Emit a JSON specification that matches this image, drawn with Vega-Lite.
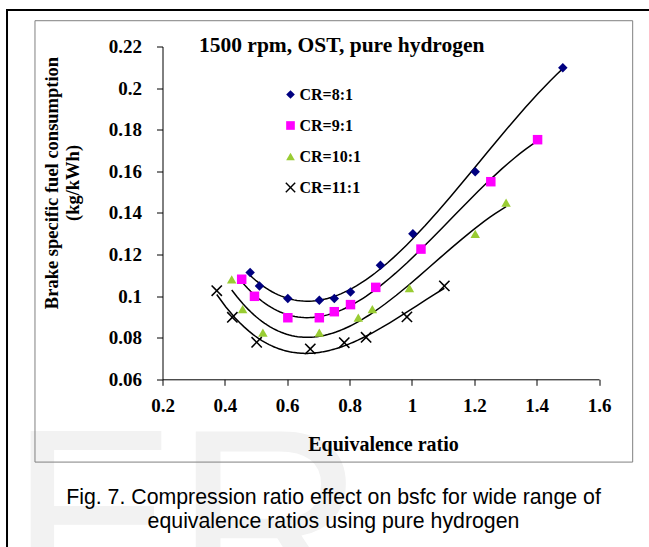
{
  "$schema": "https://vega.github.io/schema/vega-lite/v6.json",
  "autosize": {"type": "none"},
  "padding": {"left": 162.5, "top": 46.5, "right": 50, "bottom": 167.7},
  "width": 436.5,
  "height": 332.8,
  "background": "white",
  "config": {"view": {"stroke": null}, "font": "Liberation Serif"},
  "datasets": {
    "obs": [
      {"cr": "CR=8:1", "phi": 0.481, "bsfc": 0.1114},
      {"cr": "CR=8:1", "phi": 0.511, "bsfc": 0.1049},
      {"cr": "CR=8:1", "phi": 0.602, "bsfc": 0.0988},
      {"cr": "CR=8:1", "phi": 0.703, "bsfc": 0.098},
      {"cr": "CR=8:1", "phi": 0.751, "bsfc": 0.0988},
      {"cr": "CR=8:1", "phi": 0.803, "bsfc": 0.102},
      {"cr": "CR=8:1", "phi": 0.899, "bsfc": 0.1148},
      {"cr": "CR=8:1", "phi": 1.003, "bsfc": 0.13},
      {"cr": "CR=8:1", "phi": 1.203, "bsfc": 0.1598},
      {"cr": "CR=8:1", "phi": 1.484, "bsfc": 0.2098},
      {"cr": "CR=9:1", "phi": 0.454, "bsfc": 0.1081},
      {"cr": "CR=9:1", "phi": 0.495, "bsfc": 0.0999},
      {"cr": "CR=9:1", "phi": 0.602, "bsfc": 0.0896},
      {"cr": "CR=9:1", "phi": 0.703, "bsfc": 0.0896},
      {"cr": "CR=9:1", "phi": 0.751, "bsfc": 0.0925},
      {"cr": "CR=9:1", "phi": 0.803, "bsfc": 0.0959},
      {"cr": "CR=9:1", "phi": 0.884, "bsfc": 0.1042},
      {"cr": "CR=9:1", "phi": 1.029, "bsfc": 0.1226},
      {"cr": "CR=9:1", "phi": 1.253, "bsfc": 0.155},
      {"cr": "CR=9:1", "phi": 1.403, "bsfc": 0.1752},
      {"cr": "CR=10:1", "phi": 0.422, "bsfc": 0.108},
      {"cr": "CR=10:1", "phi": 0.457, "bsfc": 0.0937},
      {"cr": "CR=10:1", "phi": 0.522, "bsfc": 0.0824},
      {"cr": "CR=10:1", "phi": 0.703, "bsfc": 0.0824},
      {"cr": "CR=10:1", "phi": 0.828, "bsfc": 0.0896},
      {"cr": "CR=10:1", "phi": 0.873, "bsfc": 0.0937},
      {"cr": "CR=10:1", "phi": 0.992, "bsfc": 0.1038},
      {"cr": "CR=10:1", "phi": 1.203, "bsfc": 0.1299},
      {"cr": "CR=10:1", "phi": 1.302, "bsfc": 0.1449},
      {"cr": "CR=11:1", "phi": 0.374, "bsfc": 0.1026},
      {"cr": "CR=11:1", "phi": 0.424, "bsfc": 0.0898},
      {"cr": "CR=11:1", "phi": 0.502, "bsfc": 0.0778},
      {"cr": "CR=11:1", "phi": 0.674, "bsfc": 0.0746},
      {"cr": "CR=11:1", "phi": 0.783, "bsfc": 0.0776},
      {"cr": "CR=11:1", "phi": 0.853, "bsfc": 0.0802},
      {"cr": "CR=11:1", "phi": 0.984, "bsfc": 0.09},
      {"cr": "CR=11:1", "phi": 1.104, "bsfc": 0.1049}
    ]
  },
  "data": {"name": "obs"},
  "layer": [
    {
      "data": {"values": [{}]},
      "mark": {"type": "text", "text": "E", "font": "Liberation Sans", "fontSize": 250, "color": "#f2f2f2", "align": "left", "baseline": "alphabetic"},
      "encoding": {
        "x": {"datum": -0.288, "type": "quantitative", "scale": {"domain": [0.2, 1.6], "nice": false, "zero": false}},
        "y": {"datum": -0.048, "type": "quantitative", "scale": {"domain": [0.06, 0.22], "nice": false, "zero": false}}
      }
    },
    {
      "data": {"values": [{}]},
      "mark": {"type": "text", "text": "R", "font": "Liberation Sans", "fontSize": 265, "color": "#f2f2f2", "align": "left", "baseline": "alphabetic"},
      "encoding": {
        "x": {"datum": 0.237, "type": "quantitative", "scale": {"domain": [0.2, 1.6], "nice": false, "zero": false}},
        "y": {"datum": -0.0528, "type": "quantitative", "scale": {"domain": [0.06, 0.22], "nice": false, "zero": false}}
      }
    },
    {
      "data": {"values": [{}]},
      "mark": {"type": "rect", "fill": "transparent", "stroke": "black", "strokeWidth": 2},
      "encoding": {
        "x": {"datum": -0.2987, "type": "quantitative", "scale": {"domain": [0.2, 1.6], "nice": false, "zero": false}},
        "x2": {"datum": 2.0},
        "y": {"datum": 0.2376, "type": "quantitative", "scale": {"domain": [0.06, 0.22], "nice": false, "zero": false}},
        "y2": {"datum": -0.1}
      }
    },
    {
      "data": {"values": [{}]},
      "mark": {"type": "rect", "fill": "transparent", "stroke": "#808080", "strokeWidth": 1},
      "encoding": {
        "x": {"datum": -0.209, "type": "quantitative", "scale": {"domain": [0.2, 1.6], "nice": false, "zero": false}},
        "x2": {"datum": 1.708},
        "y": {"datum": 0.2324, "type": "quantitative", "scale": {"domain": [0.06, 0.22], "nice": false, "zero": false}},
        "y2": {"datum": 0.0202}
      }
    },
    {
      "data": {"values": [{}]},
      "mark": {"type": "text", "text": ["Fig. 7. Compression ratio effect on bsfc for wide range of", "equivalence ratios using pure hydrogen"], "font": "Liberation Sans", "fontSize": 21.3, "lineHeight": 24, "color": "black", "align": "center", "baseline": "alphabetic"},
      "encoding": {
        "x": {"datum": 0.7484, "type": "quantitative", "scale": {"domain": [0.2, 1.6], "nice": false, "zero": false}},
        "y": {"datum": 0.0, "type": "quantitative", "scale": {"domain": [0.06, 0.22], "nice": false, "zero": false}}
      }
    },
    {
      "data": {"values": [{}]},
      "mark": {"type": "text", "text": "1500 rpm, OST, pure hydrogen", "font": "Liberation Serif", "fontWeight": "bold", "fontSize": 21.5, "color": "black", "align": "left", "baseline": "alphabetic"},
      "encoding": {
        "x": {"datum": 0.317, "type": "quantitative", "scale": {"domain": [0.2, 1.6], "nice": false, "zero": false}},
        "y": {"datum": 0.2172, "type": "quantitative", "scale": {"domain": [0.06, 0.22], "nice": false, "zero": false}}
      }
    },
    {
      "transform": [
        {"regression": "bsfc", "on": "phi", "groupby": ["cr"], "method": "poly", "order": 3}
      ],
      "mark": {"type": "line", "color": "black", "strokeWidth": 1.5},
      "encoding": {
        "x": {"field": "phi", "type": "quantitative", "scale": {"domain": [0.2, 1.6], "nice": false, "zero": false}},
        "y": {"field": "bsfc", "type": "quantitative", "scale": {"domain": [0.06, 0.22], "nice": false, "zero": false}},
        "detail": {"field": "cr", "type": "nominal"}
      }
    },
    {
      "mark": {"type": "point", "filled": true, "size": 90, "strokeWidth": 0, "opacity": 1},
      "encoding": {
        "x": {
          "field": "phi", "type": "quantitative",
          "scale": {"domain": [0.2, 1.6], "nice": false, "zero": false},
          "axis": {
            "title": "Equivalence ratio",
            "values": [0.2, 0.4, 0.6, 0.8, 1.0, 1.2, 1.4, 1.6],
            "format": ".1~f",
            "grid": false,
            "zindex": 1,
            "domainColor": "black", "tickColor": "black", "tickSize": 6,
            "labelFont": "Liberation Serif", "labelFontWeight": "bold", "labelFontSize": 19, "labelColor": "black", "labelPadding": 11,
            "labelFlush": false, "labelOverlap": false,
            "titleFont": "Liberation Serif", "titleFontWeight": "bold", "titleFontSize": 20, "titleColor": "black",
            "titleX": 220.5, "titleY": 71.4, "titleBaseline": "alphabetic"
          }
        },
        "y": {
          "field": "bsfc", "type": "quantitative",
          "scale": {"domain": [0.06, 0.22], "nice": false, "zero": false},
          "axis": {
            "title": ["Brake specific fuel consumption", "(kg/kWh)"],
            "values": [0.06, 0.08, 0.1, 0.12, 0.14, 0.16, 0.18, 0.2, 0.22],
            "format": ".2~f",
            "grid": false,
            "zindex": 1,
            "domainColor": "black", "tickColor": "black", "tickSize": 6,
            "labelFont": "Liberation Serif", "labelFontWeight": "bold", "labelFontSize": 19, "labelColor": "black", "labelPadding": 15,
            "labelOverlap": false,
            "titleFont": "Liberation Serif", "titleFontWeight": "bold", "titleFontSize": 18.5, "titleColor": "black", "titleLineHeight": 21.5,
            "titleX": -120.5, "titleY": 136, "titleBaseline": "top", "titleAngle": -90
          }
        },
        "color": {
          "field": "cr", "type": "nominal",
          "scale": {"domain": ["CR=8:1", "CR=9:1", "CR=10:1", "CR=11:1"], "range": ["#000080", "#FF00FF", "#99CC33", "#000000"]},
          "legend": {"orient": "none", "legendX": 120, "legendY": 40, "title": null, "padding": 0, "labelFont": "Liberation Serif", "labelFontWeight": "bold", "labelFontSize": 16, "labelColor": "black", "labelOffset": 1, "rowPadding": 15, "symbolSize": 75, "symbolStrokeWidth": 0}
        },
        "shape": {
          "field": "cr", "type": "nominal",
          "scale": {"domain": ["CR=8:1", "CR=9:1", "CR=10:1", "CR=11:1"], "range": ["diamond", "square", "triangle-up", "M-1.2,-0.97L-0.97,-1.2L0,-0.23L0.97,-1.2L1.2,-0.97L0.23,0L1.2,0.97L0.97,1.2L0,0.23L-0.97,1.2L-1.2,0.97L-0.23,0Z"]},
          "legend": {"orient": "none", "legendX": 120, "legendY": 40, "title": null, "padding": 0, "labelFont": "Liberation Serif", "labelFontWeight": "bold", "labelFontSize": 16, "labelColor": "black", "labelOffset": 1, "rowPadding": 15, "symbolSize": 75, "symbolStrokeWidth": 0}
        }
      }
    }
  ]
}
